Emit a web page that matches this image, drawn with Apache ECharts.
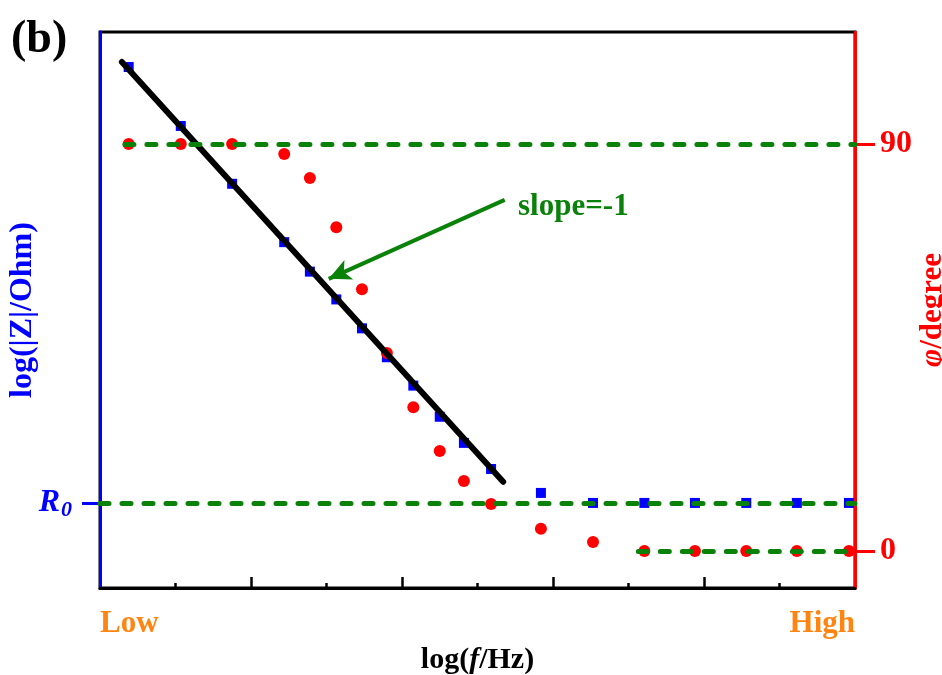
<!DOCTYPE html>
<html>
<head>
<meta charset="utf-8">
<script src="https://cdn.jsdelivr.net/npm/echarts@6/dist/echarts.min.js"></script>
<style>
  html, body { margin: 0; padding: 0; background: #fff; }
  #main { width: 942px; height: 675px; }
</style>
</head>
<body>
<div id="main"></div>
<script>
// log(f) positions (Low -> High, arbitrary units 0..10)
const logF = [0.38, 1.07, 1.75, 2.44, 2.78, 3.13, 3.47, 3.80, 4.15, 4.50, 4.82, 5.18, 5.84, 6.53, 7.21, 7.88, 8.56, 9.23, 9.92];
// log|Z| (arbitrary units)
const logZ = [9.37, 8.31, 7.27, 6.22, 5.69, 5.19, 4.67, 4.15, 3.64, 3.08, 2.61, 2.14, 1.71, 1.53, 1.53, 1.53, 1.53, 1.53, 1.53];
// phase angle, degree
const phase = [90, 90, 90, 87.8, 82.5, 71.6, 57.9, 43.8, 31.8, 22.1, 15.5, 10.4, 4.9, 2.0, 0, 0, 0, 0, 0];
// slope = -1 fit line
const fitX = [0.29, 5.34];
const fitY = [9.46, 1.91];
const R0 = 1.53;
const phaseTicks = [0, 90];
const xMajor = [2, 4, 6, 8];
const xMinor = [1, 3, 5, 7, 9];

const serif = '"Times New Roman", "Liberation Serif", serif';
const green = '#0a820a';

let chart = echarts.init(document.getElementById('main'));
let option = {
  animation: false,
  backgroundColor: '#fff',
  grid: {
    left: 100, right: 87, top: 32, bottom: 87,
    outerBoundsMode: 'none', containLabel: false,
    show: true, borderColor: '#000', borderWidth: 3
  },
  xAxis: [{
    type: 'value', min: 0, max: 10, position: 'bottom',
    axisLine: { onZero: false, lineStyle: { color: '#000', width: 3 } },
    axisTick: { inside: true, length: 11, customValues: xMajor, lineStyle: { color: '#000', width: 2.5 } },
    axisLabel: {
      customValues: [0, 10], margin: 20,
      formatter: v => (v === 0 ? 'Low' : 'High'),
      alignMinLabel: 'left', alignMaxLabel: 'right',
      color: '#ff8411', fontFamily: serif, fontWeight: 'bold', fontSize: 31
    },
    splitLine: { show: false },
    name: '{n|log(}{i|f}{n|/Hz)}', nameLocation: 'middle', nameGap: 57,
    nameTextStyle: {
      rich: {
        n: { fontFamily: serif, fontWeight: 'bold', fontSize: 30, color: '#000' },
        i: { fontFamily: serif, fontWeight: 'bold', fontStyle: 'italic', fontSize: 30, color: '#000' }
      }
    }
  }, {
    type: 'value', min: 0, max: 10, position: 'bottom',
    axisLine: { show: false, onZero: false },
    axisTick: { inside: true, length: 5, customValues: xMinor, lineStyle: { color: '#000', width: 2.5 } },
    axisLabel: { show: false },
    splitLine: { show: false }
  }],
  yAxis: [{
    type: 'value', min: 0, max: 10, position: 'left',
    axisLine: { show: true, onZero: false, lineStyle: { color: '#0000ff', width: 3 } },
    axisTick: { show: true, length: 18, customValues: [R0], lineStyle: { color: '#0000ff', width: 3 } },
    axisLabel: {
      customValues: [R0], margin: 28,
      formatter: () => '{r|R}{s|0}',
      rich: {
        r: { fontFamily: serif, fontWeight: 'bold', fontStyle: 'italic', fontSize: 32, color: '#0000ff' },
        s: { fontFamily: serif, fontWeight: 'bold', fontStyle: 'italic', fontSize: 22, color: '#0000ff', padding: [14, 0, 0, 1] }
      }
    },
    splitLine: { show: false },
    name: 'log(|Z|/Ohm)', nameLocation: 'middle', nameRotate: 90, nameGap: 61,
    nameMoveOverlap: false,
    nameTextStyle: { fontFamily: serif, fontWeight: 'bold', fontSize: 32, color: '#0000ff' }
  }, {
    type: 'value', min: -8.18, max: 114.77, position: 'right',
    axisLine: { show: true, onZero: false, lineStyle: { color: '#ff0000', width: 3 } },
    axisTick: { show: true, length: 20, customValues: phaseTicks, lineStyle: { color: '#ff0000', width: 3 } },
    axisLabel: {
      customValues: phaseTicks, margin: 25,
      color: '#ff0000', fontFamily: serif, fontWeight: 'bold', fontSize: 32
    },
    splitLine: { show: false },
    name: '{i|φ}{n|/degree}', nameLocation: 'middle', nameRotate: 90, nameGap: 62,
    nameMoveOverlap: false,
    nameTextStyle: {
      rich: {
        n: { fontFamily: serif, fontWeight: 'bold', fontSize: 31, color: '#ff0000' },
        i: { fontFamily: serif, fontWeight: 'bold', fontStyle: 'italic', fontSize: 31, color: '#ff0000' }
      }
    }
  }],
  graphic: [
    { type: 'text', left: 11, top: 17, style: { text: '(b)', font: 'bold 46px ' + serif, fill: '#000' } },
    { type: 'text', left: 518, top: 191, style: { text: 'slope=-1', font: 'bold 31px ' + serif, fill: green } }
  ],
  series: [{
    name: 'log|Z|', type: 'scatter', xAxisIndex: 0, yAxisIndex: 0, z: 1,
    symbol: 'rect', symbolSize: 10, silent: true,
    itemStyle: { color: '#0000ff', opacity: 1 },
    data: logF.map((x, i) => [x, logZ[i]]),
    markLine: {
      silent: true, symbol: 'none', z: 5, label: { show: false },
      lineStyle: { color: green, width: 5, type: [9, 13], cap: 'round', opacity: 1 },
      data: [[{ coord: [0, R0] }, { coord: [10, R0] }]]
    }
  }, {
    name: 'phase', type: 'scatter', xAxisIndex: 0, yAxisIndex: 1, z: 2,
    symbol: 'circle', symbolSize: 12, silent: true,
    itemStyle: { color: '#ff0000', opacity: 1 },
    data: logF.map((x, i) => [x, phase[i]]),
    markLine: {
      silent: true, symbol: 'none', z: 5, label: { show: false },
      lineStyle: { color: green, width: 5, type: [9, 13], cap: 'round', opacity: 1 },
      data: [
        [{ coord: [0.33, 90] }, { coord: [10, 90] }],
        [{ coord: [7.13, 0] }, { coord: [10, 0] }]
      ]
    }
  }, {
    name: 'fit', type: 'line', xAxisIndex: 0, yAxisIndex: 0, z: 3,
    showSymbol: false, silent: true,
    lineStyle: { color: '#000', width: 6, cap: 'round' },
    data: fitX.map((x, i) => [x, fitY[i]]),
    markLine: {
      silent: true, z: 6, label: { show: false },
      symbol: ['none', 'arrow'], symbolSize: [16, 22],
      lineStyle: { color: green, width: 4, type: 'solid', opacity: 1 },
      data: [[{ coord: [5.36, 6.98] }, { coord: [3.03, 5.56] }]]
    }
  }]
};
chart.setOption(option);
</script>
</body>
</html>
